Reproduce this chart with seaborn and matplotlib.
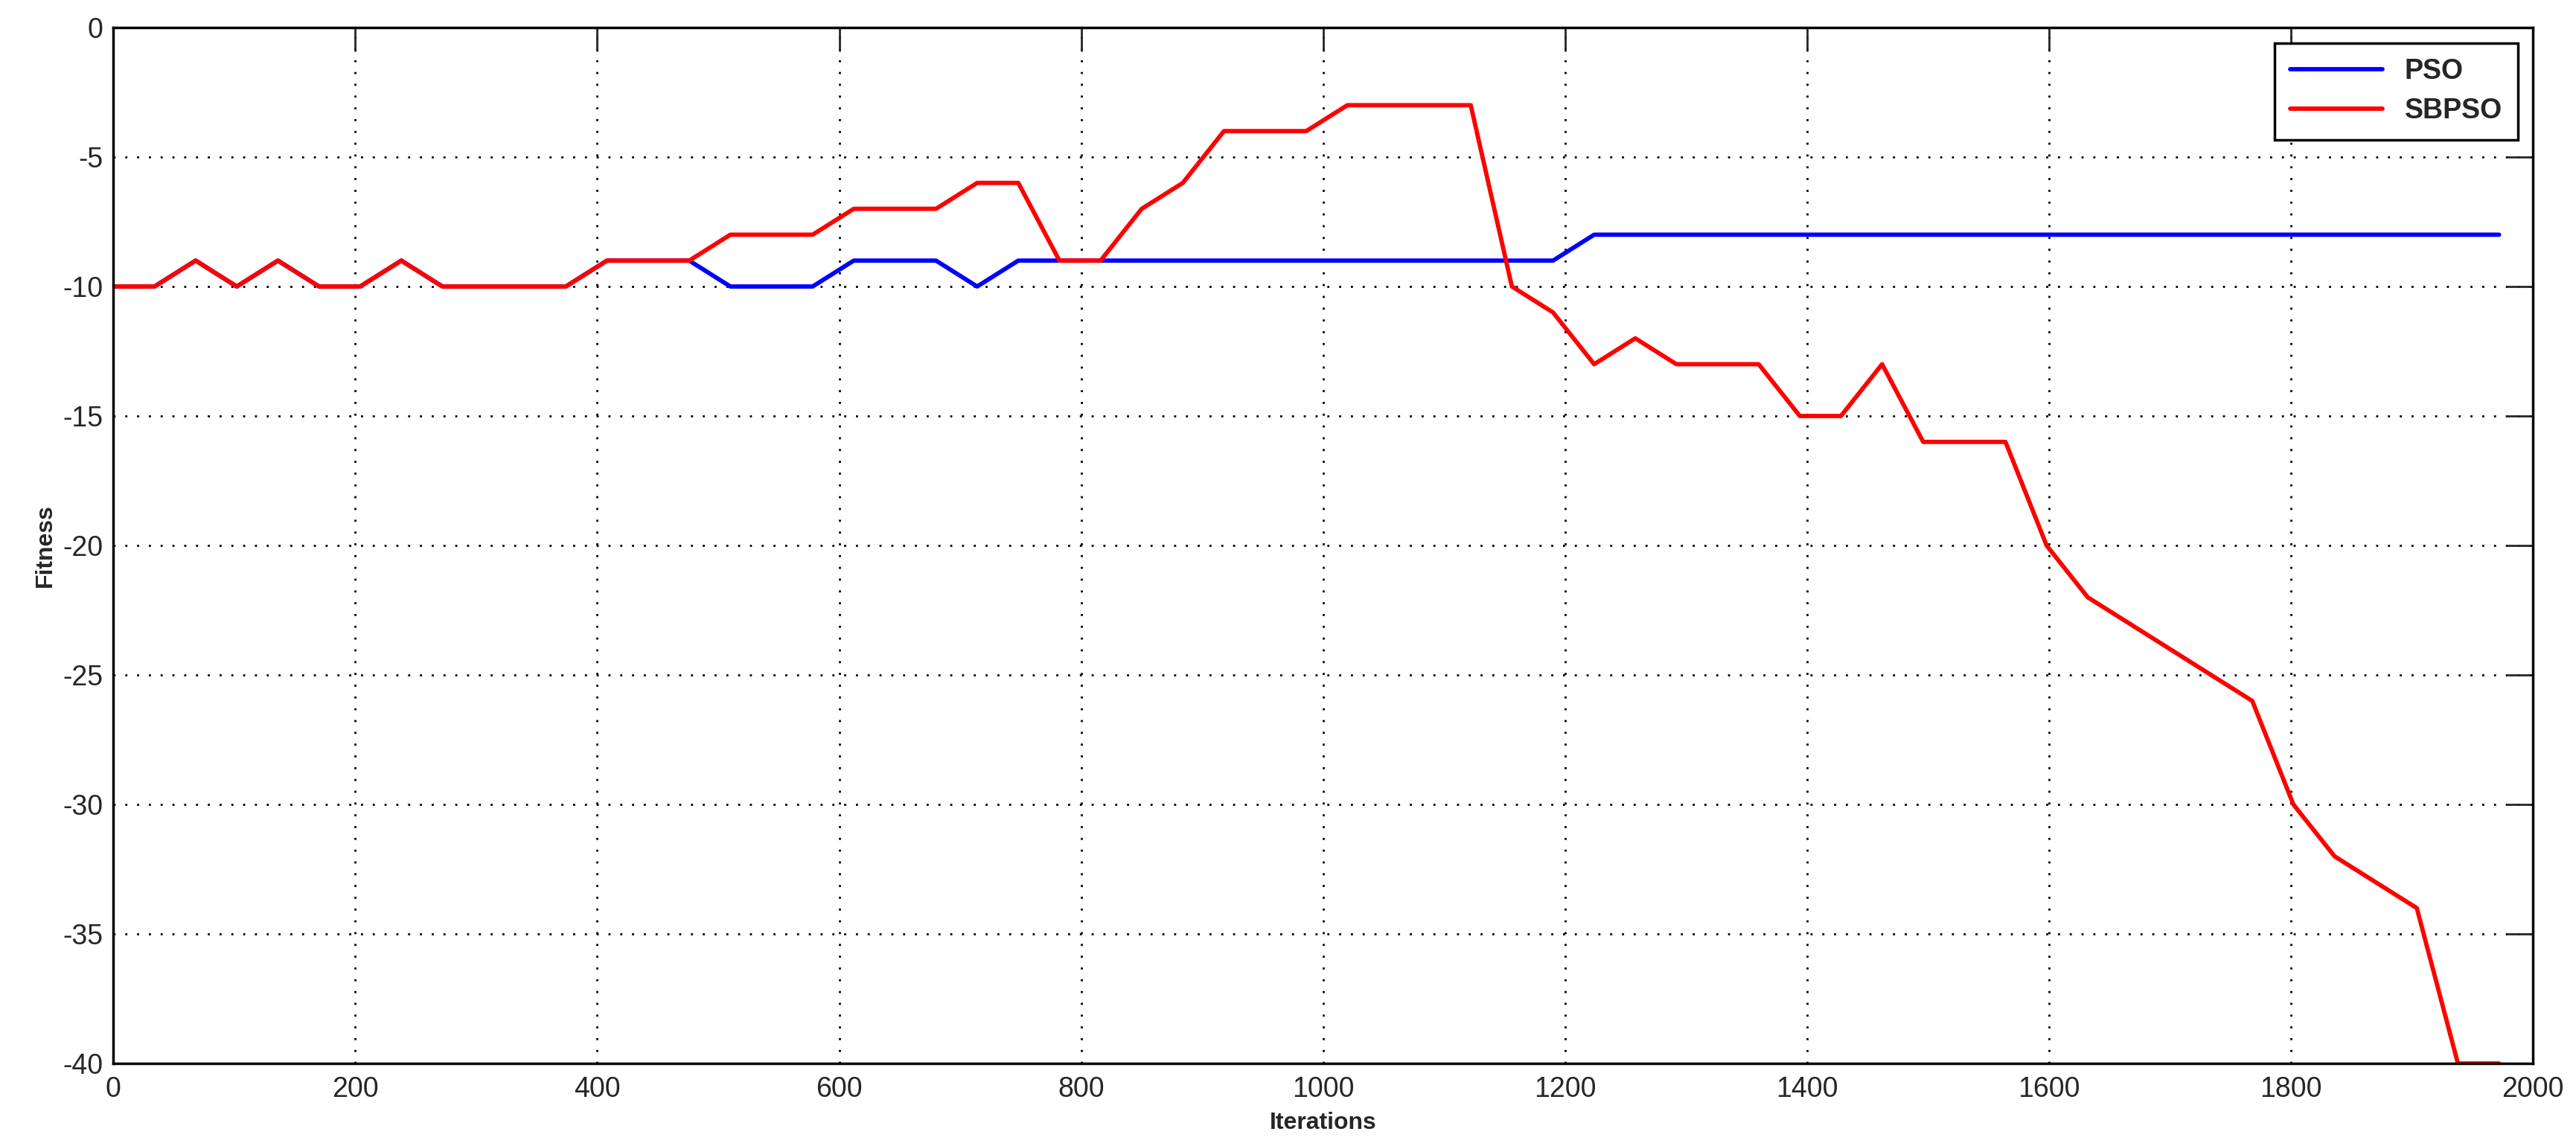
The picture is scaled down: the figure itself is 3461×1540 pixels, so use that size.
import matplotlib
matplotlib.use("Agg")
import matplotlib.pyplot as plt
import seaborn as sns
import pandas as pd

# iterations sampled along the run
iters = [0, 34, 68, 102, 136, 170, 204, 238, 272, 306, 340, 374, 408, 442, 476,
         510, 544, 578, 612, 646, 680, 714, 748, 782, 816, 850, 884, 918, 952, 986,
         1020, 1054, 1088, 1122, 1156, 1190, 1224, 1258, 1292, 1326, 1360, 1394,
         1428, 1462, 1496, 1530, 1564, 1598, 1632, 1666, 1700, 1734, 1768, 1802,
         1836, 1870, 1904, 1938, 1972]

pso = [-10, -10, -9, -10, -9, -10, -10, -9, -10, -10, -10, -10, -9, -9, -9,
       -10, -10, -10, -9, -9, -9, -10, -9, -9, -9, -9, -9, -9, -9, -9,
       -9, -9, -9, -9, -9, -9, -8, -8, -8, -8, -8, -8,
       -8, -8, -8, -8, -8, -8, -8, -8, -8, -8, -8, -8,
       -8, -8, -8, -8, -8]

sbpso = [-10, -10, -9, -10, -9, -10, -10, -9, -10, -10, -10, -10, -9, -9, -9,
         -8, -8, -8, -7, -7, -7, -6, -6, -9, -9, -7, -6, -4, -4, -4,
         -3, -3, -3, -3, -10, -11, -13, -12, -13, -13, -13, -15,
         -15, -13, -16, -16, -16, -20, -22, -23, -24, -25, -26, -30,
         -32, -33, -34, -40, -40]

series_names = ["PSO", "SBPSO"]
colors = {"PSO": "#0000ff", "SBPSO": "#ff0000"}

df = pd.concat([
    pd.DataFrame({"Iterations": iters, "Fitness": pso, "method": "PSO"}),
    pd.DataFrame({"Iterations": iters, "Fitness": sbpso, "method": "SBPSO"}),
])

sns.set_style("white")
plt.rcParams['font.family'] = ['Liberation Sans', 'DejaVu Sans']
plt.rcParams['axes.unicode_minus'] = False

fig = plt.figure(figsize=(34.62, 15.40), dpi=100)
ax = fig.add_axes([0.044, 0.072, 0.939, 0.904])

sns.lineplot(data=df, x="Iterations", y="Fitness", hue="method",
             hue_order=series_names, palette=colors, linewidth=4.2,
             estimator=None, sort=False, ax=ax)

ax.set_xlim(0, 2000)
ax.set_ylim(-40, 0)
ax.set_xticks(range(0, 2001, 200))
ax.set_yticks(range(-40, 1, 5))

ax.grid(True, linestyle=(0, (1, 4.7)), color="black", linewidth=2.0)
ax.tick_params(direction="in", width=2, labelsize=27, top=True, right=True)
ax.tick_params(axis="x", length=23, pad=12)
ax.tick_params(axis="y", length=26, pad=10)
for s in ax.spines.values():
    s.set_visible(True)
    s.set_color("black")
    s.set_linewidth(2.5)

ax.set_xlabel("Iterations", fontsize=23, fontweight="bold", labelpad=9)
ax.set_ylabel("Fitness", fontsize=23, fontweight="bold", labelpad=6)

leg = ax.legend(loc="upper right", fancybox=False, framealpha=1,
                edgecolor="black", handlelength=3.3, handletextpad=0.8,
                borderpad=0.55, labelspacing=0.45, borderaxespad=0.55,
                prop={"weight": "bold", "size": 27})
leg.get_frame().set_linewidth(2.5)
for h in leg.get_lines():
    h.set_linewidth(4.2)

fig.savefig("out.png", dpi=100)
